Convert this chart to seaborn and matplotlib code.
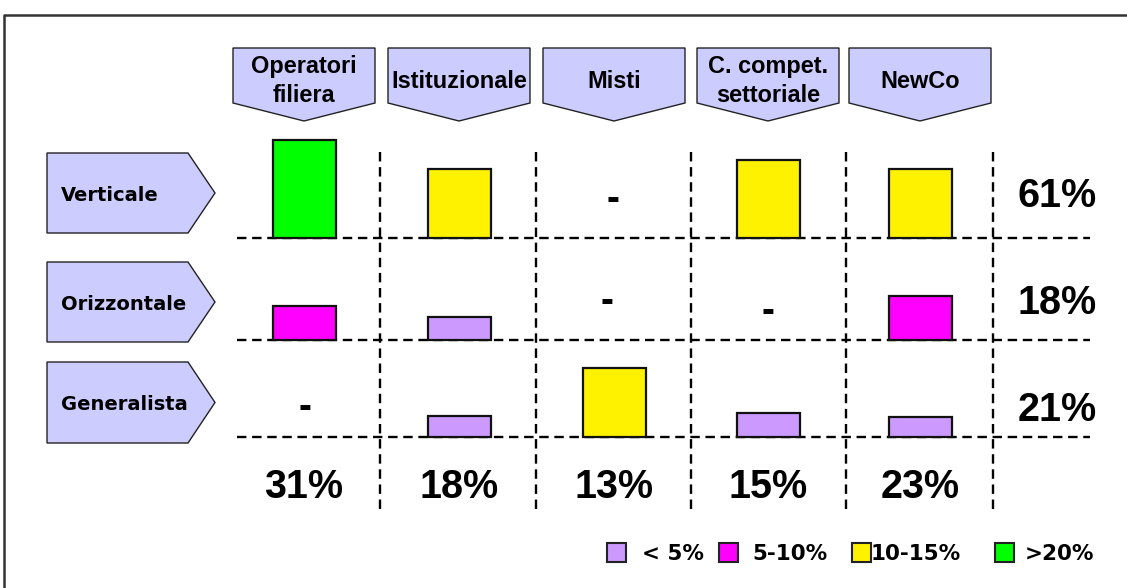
import numpy as np
import matplotlib
matplotlib.use("Agg")
import matplotlib.pyplot as plt
from matplotlib.patches import Polygon, Rectangle
import seaborn as sns

# ---------------- data ----------------
columns = ["Operatori\nfiliera", "Istituzionale", "Misti", "C. compet.\nsettoriale", "NewCo"]
rows = ["Verticale", "Orizzontale", "Generalista"]
# share (%) per cell, None = "-"
verticale = [20.0, 14.0, None, 16.0, 14.0]
orizzontale = [7.0, 4.7, None, None, 9.0]
generalista = [None, 4.3, 14.0, 4.9, 4.1]
row_totals = ["61%", "18%", "21%"]
col_totals = ["31%", "18%", "13%", "15%", "23%"]
legend_labels = ["< 5%", "5-10%", "10-15%", ">20%"]
legend_colors = ["#CC99FF", "#FF00FF", "#FFF200", "#00FF00"]

values = [verticale, orizzontale, generalista]

def color_for(v):
    if v < 5:
        return legend_colors[0]
    if v < 10:
        return legend_colors[1]
    if v < 20:
        return legend_colors[2]
    return legend_colors[3]

# ---------------- layout ----------------
sns.set_theme(style="white")
plt.rcParams["font.family"] = ["Liberation Sans", "DejaVu Sans"]

W, H = 1127, 588
fig = plt.figure(figsize=(W / 100, H / 100), dpi=100)
ax = fig.add_axes([0, 0, 1, 1])
ax.set_xlim(0, W)
ax.set_ylim(H, 0)
ax.axis("off")

PX = 0.72  # px -> pt
col_x = [304, 459, 614, 768, 920]
baselines = [238, 340, 437]
scale = 4.9
bar_w = 63
box_fill = "#CCCCFF"
edge = "#222222"

# outer frame
ax.plot([4, 4, W], [H, 15, 15], color="#333333", lw=1.8, solid_capstyle="butt")

# column header down-arrows
for cx, name in zip(col_x, columns):
    l, r = cx - 71, cx + 71
    poly = Polygon([(l, 48), (r, 48), (r, 103), (cx, 121), (l, 103)],
                   closed=True, facecolor=box_fill, edgecolor=edge, lw=1.0)
    ax.add_patch(poly)
    lines = name.split("\n")
    n = len(lines)
    for i, t in enumerate(lines):
        yb = 88 + (i - (n - 1) / 2) * 29
        ax.text(cx, yb, t, ha="center", va="baseline", fontsize=23.5 * PX,
                fontweight="bold", color="black")

# row header right-arrows
row_box = [(153, 233), (262, 342), (362, 443)]
for (t, b), name in zip(row_box, rows):
    mid = (t + b) / 2
    poly = Polygon([(47, t), (188, t), (215, mid), (188, b), (47, b)],
                   closed=True, facecolor=box_fill, edgecolor=edge, lw=1.0)
    ax.add_patch(poly)
    ax.text(61, mid + 8, name, ha="left", va="baseline", fontsize=19.5 * PX,
            fontweight="bold", family="DejaVu Sans", color="black")

# dashed grid
dash = (0, (4.0, 2.4))
ax.hlines(baselines, 237, 1090, colors="black", lw=1.7, linestyles=[dash])
ax.vlines([380, 536, 691, 846, 993], 152, 512, colors="black", lw=1.7, linestyles=[dash])

# bars
dash_offsets = {(0, 2): (613, 199), (1, 2): (607, 302), (1, 3): (768, 311), (2, 0): (305, 407)}
for ri, rv in enumerate(values):
    xs = [col_x[ci] for ci, v in enumerate(rv) if v is not None]
    hs = [-v * scale for v in rv if v is not None]
    cs = [color_for(v) for v in rv if v is not None]
    ax.bar(xs, hs, bottom=baselines[ri], width=bar_w, color=cs,
           edgecolor="#111111", linewidth=1.6, zorder=3)
    for ci, v in enumerate(rv):
        if v is None:
            x, y = dash_offsets[(ri, ci)]
            ax.text(x, y + 10.5, "-", ha="center", va="baseline",
                    fontsize=39 * PX, fontweight="bold", color="black")

# row totals
for yb, t in zip([207, 314, 421], row_totals):
    ax.text(1057, yb, t, ha="center", va="baseline", fontsize=39.5 * PX,
            fontweight="bold", color="black")

# column totals
for cx, t in zip(col_x, col_totals):
    ax.text(cx, 498, t, ha="center", va="baseline", fontsize=39.5 * PX,
            fontweight="bold", color="black")

# legend
sq_x = [607, 719, 852, 995]
txt_x = [642, 752, 871, 1025]
for sx, tx, lab, c in zip(sq_x, txt_x, legend_labels, legend_colors):
    ax.add_patch(Rectangle((sx, 543), 19, 19, facecolor=c, edgecolor="#222222", lw=1.5))
    ax.text(tx, 560, lab, ha="left", va="baseline", fontsize=21.5 * PX,
            fontweight="bold", family="DejaVu Sans", color="black")

fig.savefig("out.png", dpi=100)
